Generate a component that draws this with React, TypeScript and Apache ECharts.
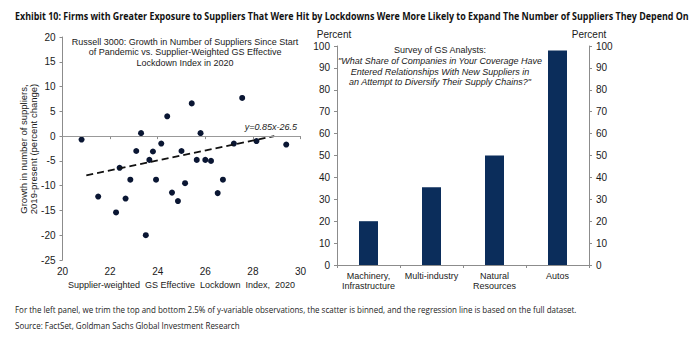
import React, { useEffect, useRef } from "react";
import * as echarts from "echarts";

const scatterX = [20.8, 21.5, 22.25, 22.4, 22.65, 22.85, 23.1, 23.3, 23.5, 23.65, 23.8, 23.93, 24.15, 24.4, 24.6, 24.85, 25.0, 25.15, 25.43, 25.64, 25.8, 26.0, 26.24, 26.52, 26.74, 27.2, 27.55, 28.15, 29.4];
const scatterY = [-0.7, -12.2, -15.4, -6.4, -12.6, -8.8, -3.0, 0.6, -20.0, -4.8, -3.1, -8.8, -1.5, 4.0, -11.4, -13.1, -3.0, -9.5, 6.6, -4.8, 0.6, -4.8, -5.0, -11.5, -8.8, -1.5, 7.7, -1.0, -1.7];
const regressionX = [21.0, 28.9];
const regressionY = [-7.9, 0];
const categories = ["Machinery,\nInfrastructure", "Multi-industry", "Natural\nResources", "Autos"];
const barValues = [20, 35.5, 50, 98];

const titleText = "Exhibit 10: Firms with Greater Exposure to Suppliers That Were Hit by Lockdowns Were More Likely to Expand The Number of Suppliers They Depend On";
const leftTitle = "Russell 3000: Growth in Number of Suppliers Since Start\nof Pandemic vs. Supplier-Weighted GS Effective\nLockdown Index in 2020";
const leftYName = "Growth in number of suppliers,\n2019-present (percent change)";
const rightTitle1 = "Survey of GS Analysts:";
const rightTitle2 = "\"What Share of Companies in Your Coverage Have\nEntered Relationships With New Suppliers in\nan Attempt to Diversify Their Supply Chains?\"";
const footnote = "For the left panel, we trim the top and bottom 2.5% of y-variable observations, the scatter is binned, and the regression line is based on the full dataset.";
const source = "Source: FactSet, Goldman Sachs Global Investment Research";
const equation = "y=0.85x-26.5";

const FONT = "'Liberation Sans', Arial, sans-serif";
const HUM = "'Open Sans', 'Noto Sans', sans-serif";
const TXT = "#1a1a1a";
const AXIS = "#8c8c8c";

function measure(text: string, font: string): number {
  const c = document.createElement("canvas").getContext("2d");
  if (!c) return 1;
  c.font = font;
  return c.measureText(text).width || 1;
}

export default function App() {
  const ref = useRef<HTMLDivElement>(null);
  useEffect(() => {
    if (!ref.current) return;
    const chart = echarts.init(ref.current, null, { renderer: "svg" });
    const titleFont = `bold 11px ${HUM}`;
    const footFont = `9.5px ${HUM}`;
    const titleScale = 675 / measure(titleText, titleFont);
    const footScale = 562 / measure(footnote, footFont);
    const axisLabel = { fontSize: 10, color: TXT, fontFamily: FONT };
    chart.setOption({
      animation: false,
      textStyle: { fontFamily: FONT },
      grid: [
        { left: 62.5, top: 37, width: 238, height: 223 },
        { left: 337, top: 46, width: 252, height: 219 },
      ],
      xAxis: [
        {
          type: "value", gridIndex: 0, min: 20, max: 30, interval: 2,
          axisLine: { show: true, lineStyle: { color: AXIS } },
          axisTick: { show: true, length: 3, lineStyle: { color: AXIS } },
          splitLine: { show: false },
          axisLabel: { ...axisLabel, margin: 6 },
          name: "Supplier-weighted  GS Effective  Lockdown  Index,  2020",
          nameLocation: "middle", nameGap: 19,
          nameTextStyle: { fontSize: 9, color: TXT, fontFamily: FONT },
        },
        {
          type: "category", gridIndex: 1, data: categories,
          axisLine: { show: true, lineStyle: { color: AXIS } },
          axisTick: { show: true, length: 3, alignWithLabel: false, lineStyle: { color: AXIS } },
          axisLabel: { ...axisLabel, fontSize: 9, margin: 6, lineHeight: 10, interval: 0 },
        },
      ],
      yAxis: [
        {
          type: "value", gridIndex: 0, min: -25, max: 20, interval: 5,
          axisLine: { show: true, lineStyle: { color: AXIS } },
          axisTick: { show: true, length: 3, lineStyle: { color: AXIS } },
          splitLine: { show: false },
          axisLabel: { ...axisLabel, margin: 7 },
        },
        {
          type: "value", gridIndex: 1, position: "left", min: 0, max: 100, interval: 10,
          axisLine: { show: true, lineStyle: { color: AXIS } },
          axisTick: { show: true, length: 3, lineStyle: { color: AXIS } },
          splitLine: { show: false },
          axisLabel: { ...axisLabel, margin: 7 },
          name: "Percent", nameLocation: "end", nameGap: 7,
          nameTextStyle: { fontSize: 10, color: TXT, fontFamily: FONT, align: "center", padding: [0, 6, 0, 0] },
        },
        {
          type: "value", gridIndex: 1, position: "right", min: 0, max: 100, interval: 10,
          axisLine: { show: true, lineStyle: { color: AXIS } },
          axisTick: { show: true, length: 3, lineStyle: { color: AXIS } },
          splitLine: { show: false },
          axisLabel: { ...axisLabel, margin: 7 },
          name: "Percent", nameLocation: "end", nameGap: 7,
          nameTextStyle: { fontSize: 10, color: TXT, fontFamily: FONT, align: "center" },
        },
      ],
      series: [
        {
          type: "scatter", xAxisIndex: 0, yAxisIndex: 0, symbolSize: 6,
          itemStyle: { color: "#0a1633", opacity: 1 },
          data: scatterX.map((x, i) => [x, scatterY[i]]),
          markLine: {
            silent: true, symbol: "none", label: { show: false },
            lineStyle: { color: "#999", type: "solid", width: 1 },
            data: [{ yAxis: 0 }],
          },
        },
        {
          type: "line", xAxisIndex: 0, yAxisIndex: 0, symbol: "none",
          lineStyle: { color: "#111", width: 1.8, type: [7, 4] },
          data: regressionX.map((x, i) => [x, regressionY[i]]),
        },
        {
          type: "bar", xAxisIndex: 1, yAxisIndex: 1, barWidth: 19,
          itemStyle: { color: "#0b2d5b" },
          data: barValues,
        },
      ],
      graphic: [
        {
          type: "text", x: 15, y: 10, scaleX: titleScale,
          style: { text: titleText, font: titleFont, fill: "#111", verticalAlign: "top" },
        },
        {
          type: "text", x: 28.5, y: 149, rotation: Math.PI / 2,
          style: { text: leftYName, font: `9.5px ${FONT}`, fill: TXT, align: "center", verticalAlign: "middle", lineHeight: 10.5 },
        },
        {
          type: "text", x: 185, y: 37,
          style: { text: leftTitle, font: `9px ${FONT}`, fill: TXT, align: "center", lineHeight: 10.3 },
        },
        {
          type: "text", x: 440, y: 45.5,
          style: { text: rightTitle1, font: `9px ${FONT}`, fill: TXT, align: "center" },
        },
        {
          type: "text", x: 440, y: 56,
          style: { text: rightTitle2, font: `italic 9px ${FONT}`, fill: TXT, align: "center", lineHeight: 10.5 },
        },
        {
          type: "text", x: 297, y: 122,
          style: { text: equation, font: `italic 9px ${FONT}`, fill: TXT, align: "right" },
        },
        {
          type: "text", x: 15, y: 305, scaleX: footScale,
          style: { text: footnote, font: footFont, fill: "#222", verticalAlign: "top" },
        },
        {
          type: "text", x: 15, y: 321, scaleX: footScale,
          style: { text: source, font: footFont, fill: "#222", verticalAlign: "top" },
        },
      ],
    });
    return () => chart.dispose();
  }, []);
  return <div ref={ref} style={{ position: "fixed", left: 0, top: 0, width: 700, height: 350, background: "#fff" }} />;
}
